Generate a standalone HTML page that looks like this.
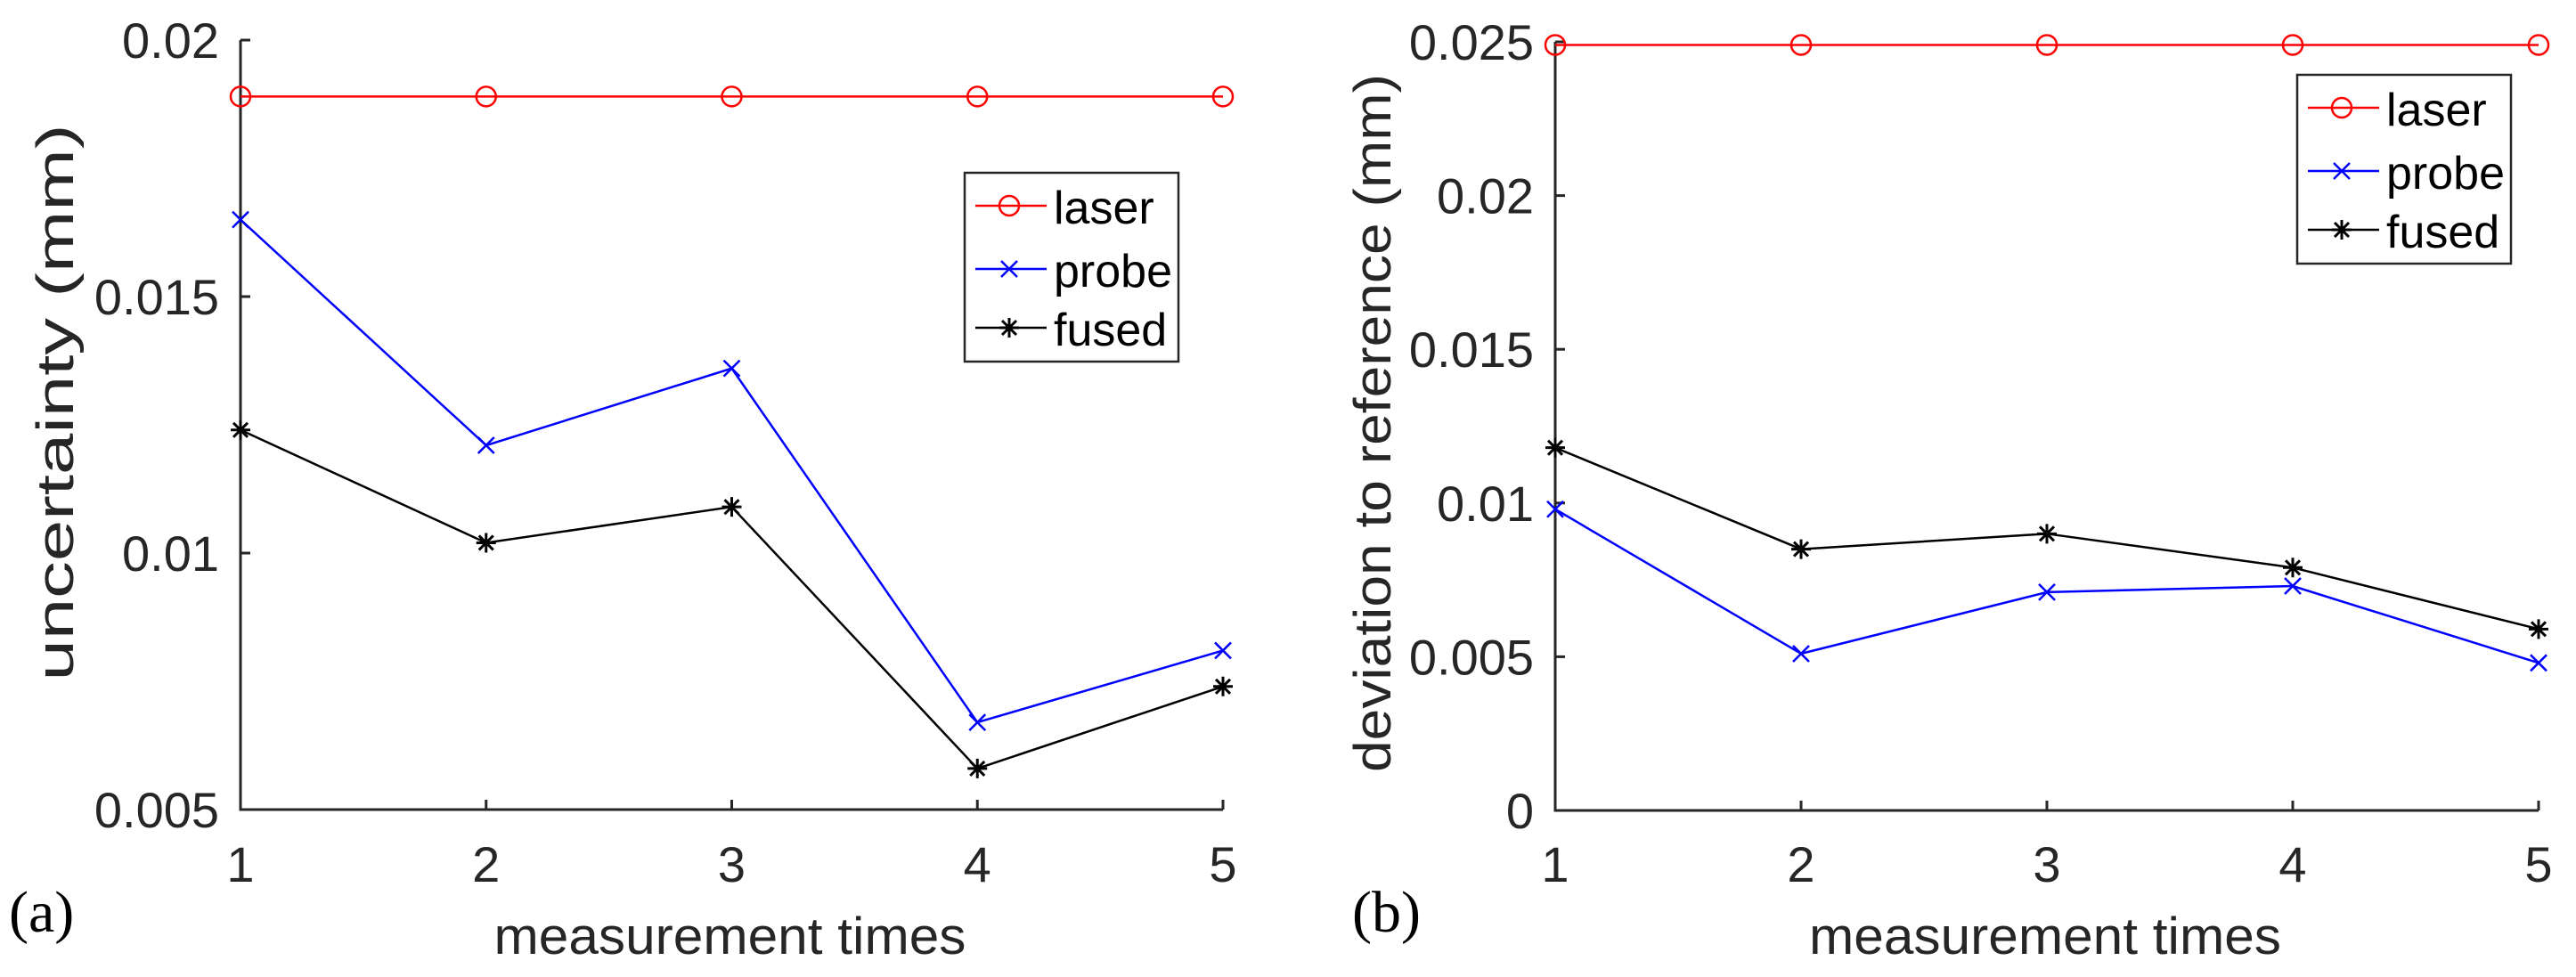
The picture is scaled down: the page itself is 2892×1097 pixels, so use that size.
<!DOCTYPE html>
<html><head><meta charset="utf-8"><style>
html,body{margin:0;padding:0;background:#fff;}
svg{display:block;font-family:"Liberation Sans",Arial,sans-serif;}
</style></head><body>
<svg id="fig" width="2892" height="1097" viewBox="0 0 2892 1097" xmlns="http://www.w3.org/2000/svg">
<rect width="2892" height="1097" fill="#fff"/>
</svg>
<script>
const categories = [1, 2, 3, 4, 5];
const seriesNames = ["laser", "probe", "fused"];
const aLaser = [0.0189, 0.0189, 0.0189, 0.0189, 0.0189];
const aProbe = [0.0165, 0.0121, 0.0136, 0.0067, 0.0081];
const aFused = [0.0124, 0.0102, 0.0109, 0.0058, 0.0074];
const bLaser = [0.0249, 0.0249, 0.0249, 0.0249, 0.0249];
const bProbe = [0.0098, 0.0051, 0.0071, 0.0073, 0.0048];
const bFused = [0.0118, 0.0085, 0.0090, 0.0079, 0.0059];
const aTicks = ["0.005", "0.01", "0.015", "0.02"];
const bTicks = ["0", "0.005", "0.01", "0.015", "0.02", "0.025"];

const NS = "http://www.w3.org/2000/svg";
const svg = document.getElementById("fig");
function mk(tag, attrs, parent, text) {
  const e = document.createElementNS(NS, tag);
  for (const k in attrs) e.setAttribute(k, attrs[k]);
  if (text !== undefined) e.textContent = text;
  (parent || svg).appendChild(e);
  return e;
}
const colors = { laser: "#ff0000", probe: "#0000ff", fused: "#000000" };

function marker(g, type, x, y, color) {
  if (type === "laser") {
    const c = mk("circle", { cx: x, cy: y, r: 11, fill: "none", stroke: color, "stroke-width": 2.5 }, g);
    
    
  } else if (type === "probe") {
    const p = mk("path", { d: `M${x-9},${y-9}L${x+9},${y+9}M${x-9},${y+9}L${x+9},${y-9}`, stroke: color, "stroke-width": 2.5, fill: "none" }, g);
    
    
  } else {
    const p = mk("path", { d: `M${x-11},${y}L${x+11},${y}M${x},${y-11}L${x},${y+11}M${x-8},${y-8}L${x+8},${y+8}M${x-8},${y+8}L${x+8},${y-8}`, stroke: color, "stroke-width": 3, fill: "none" }, g);
    
    
  }
}

function panel(cfg) {
  const g = mk("g", {});
  
  
  const xS = v => cfg.x0 + (v - 1) / 4 * (cfg.x1 - cfg.x0);
  const yS = v => cfg.yB - (v - cfg.ymin) / (cfg.ymax - cfg.ymin) * (cfg.yB - cfg.yT);
  const ax = mk("path", { d: `M${cfg.x0},${cfg.yT}L${cfg.x0},${cfg.yB}L${cfg.x1},${cfg.yB}`, stroke: "#262626", "stroke-width": 3, fill: "none" }, g);
  
  
  categories.forEach(c => {
    const x = xS(c);
    const t = mk("line", { x1: x, x2: x, y1: cfg.yB, y2: cfg.yB - 11, stroke: "#262626", "stroke-width": 3 }, g);
    
    
    const l = mk("text", { x: x, y: 990, "font-size": 56, "text-anchor": "middle", fill: "#262626" }, g, String(c));
    
    
  });
  cfg.ticks.forEach(tl => {
    const v = parseFloat(tl), y = yS(v);
    const t = mk("line", { x1: cfg.x0, x2: cfg.x0 + 11, y1: y, y2: y, stroke: "#262626", "stroke-width": 3 }, g);
    
    
    const l = mk("text", { x: cfg.x0 - 24, y: y + 20, "font-size": 56, "text-anchor": "end", fill: "#262626" }, g, tl);
    
    
  });
  cfg.series.forEach((vals, i) => {
    const nm = seriesNames[i], col = colors[nm];
    const sg = mk("g", {}, g);
    
    
    const pts = vals.map((v, j) => xS(categories[j]) + "," + yS(v)).join(" ");
    const pl = mk("polyline", { points: pts, fill: "none", stroke: col, "stroke-width": 2.5 }, sg);
    
    
    vals.forEach((v, j) => marker(sg, nm, xS(categories[j]), yS(v), col));
  });
  const xl = mk("text", { x: (cfg.x0 + cfg.x1) / 2 - 2, y: 1071, "font-size": 58, "text-anchor": "middle", fill: "#262626", textLength: 530, lengthAdjust: "spacingAndGlyphs" }, g, "measurement times");
  
  
  const yl = mk("text", { x: 0, y: 0, "font-size": 58, "text-anchor": "middle", fill: "#262626", textLength: cfg.ylen, lengthAdjust: "spacingAndGlyphs", transform: `translate(${cfg.ylx},${cfg.yly}) rotate(-90)` }, g, cfg.ylabel);
  
  
  const pl = mk("text", { x: cfg.letterX, y: 1046, "font-size": 66, "font-family": "Liberation Serif, serif", fill: "#000" }, g, cfg.letter);
  
  
  const lg = mk("g", {}, g);
  
  
  const lb = mk("rect", { x: cfg.lx, y: cfg.ly, width: 240, height: 212, fill: "#fff", stroke: "#262626", "stroke-width": 2.5 }, lg);
  
  
  [37, 108, 174].forEach((dy, i) => {
    const nm = seriesNames[i], col = colors[nm], y = cfg.ly + dy;
    const eg = mk("g", {}, lg);
    
    
    mk("line", { x1: cfg.lx + 12, x2: cfg.lx + 92, y1: y, y2: y, stroke: col, "stroke-width": 2.5 }, eg);
    marker(eg, nm, cfg.lx + 50, y, col);
    const t = mk("text", { x: cfg.lx + 100, y: y + 20, "font-size": 52, fill: "#000" }, eg, nm);
    
    
  });
}

panel({ name: "panel-a", x0: 270, x1: 1373, yT: 45, yB: 909, ymin: 0.005, ymax: 0.02,
  ticks: aTicks, series: [aLaser, aProbe, aFused], ylabel: "uncertainty (mm)", ylen: 625, ylx: 82, yly: 452,
  letter: "(a)", letterX: 10, lx: 1083, ly: 194 });
panel({ name: "panel-b", x0: 1746, x1: 2850, yT: 47, yB: 910, ymin: 0, ymax: 0.025,
  ticks: bTicks, series: [bLaser, bProbe, bFused], ylabel: "deviation to reference (mm)", ylen: 784, ylx: 1561, yly: 475,
  letter: "(b)", letterX: 1518, lx: 2579, ly: 84 });
</script>
</body></html>
